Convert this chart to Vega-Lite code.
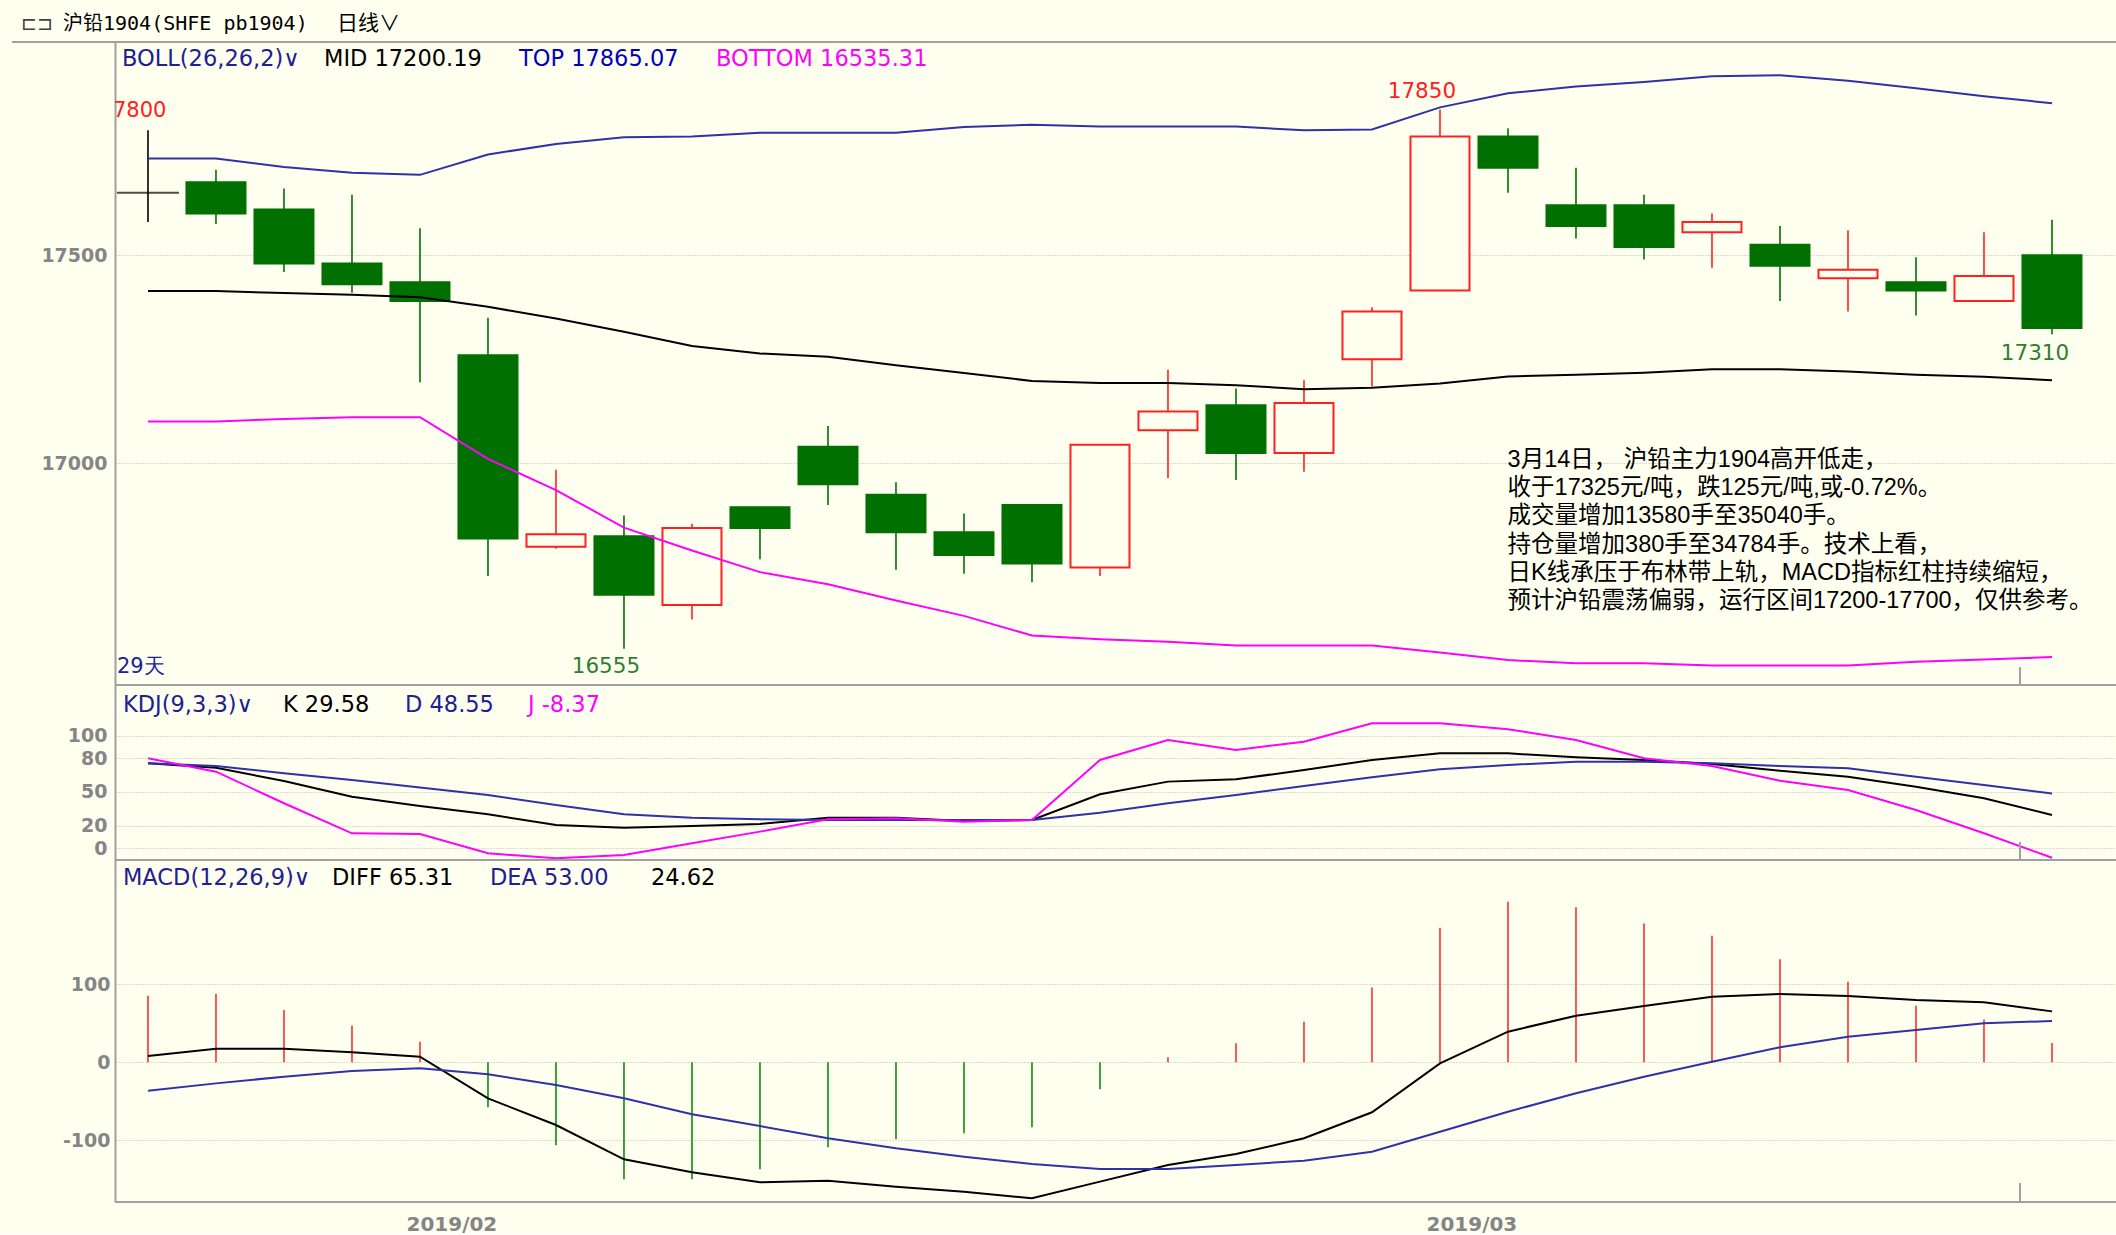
{
  "$schema": "https://vega.github.io/schema/vega-lite/v6.json",
  "background": "#FFFFF0",
  "padding": {"left": 10, "top": 13, "right": 0, "bottom": 0},
  "spacing": 0,
  "bounds": "flush",
  "config": {
    "view": {"stroke": null},
    "scale": {"continuousPadding": 0},
    "axis": {"labelFont": "DejaVu Sans", "labelFontSize": 19, "labelFontWeight": "bold", "labelColor": "#858585", "domain": false, "ticks": false, "gridColor": "#B4B4B4", "gridDash": [1, 2], "gridWidth": 1, "labelOverlap": false},
    "text": {"font": "DejaVu Sans"}
  },
  "datasets": {
    "bars": [
      {"i": 0, "date": "2019-01-28", "o": 17650, "h": 17800, "l": 17580, "c": 17650, "top": 17732, "mid": 17414, "bot": 17101, "k": 75.5, "d": 75.5, "j": 79.9, "diff": 8.1, "dea": -36.4, "macd": 85.4},
      {"i": 1, "date": "2019-01-29", "o": 17675, "h": 17705, "l": 17575, "c": 17600, "top": 17732, "mid": 17414, "bot": 17101, "k": 71.6, "d": 73.1, "j": 68, "diff": 17.5, "dea": -27, "macd": 87.6},
      {"i": 2, "date": "2019-01-30", "o": 17610, "h": 17660, "l": 17460, "c": 17480, "top": 17712, "mid": 17409, "bot": 17107, "k": 59.7, "d": 66.6, "j": 40, "diff": 17.5, "dea": -18.4, "macd": 67},
      {"i": 3, "date": "2019-01-31", "o": 17480, "h": 17645, "l": 17410, "c": 17430, "top": 17698, "mid": 17405, "bot": 17111, "k": 45.8, "d": 60.7, "j": 13.3, "diff": 12.8, "dea": -11.2, "macd": 47},
      {"i": 4, "date": "2019-02-01", "o": 17435, "h": 17565, "l": 17195, "c": 17390, "top": 17693, "mid": 17399, "bot": 17111, "k": 37.6, "d": 53.9, "j": 12.7, "diff": 7.2, "dea": -7.7, "macd": 26.4},
      {"i": 5, "date": "2019-02-11", "o": 17260, "h": 17350, "l": 16730, "c": 16820, "top": 17742, "mid": 17376, "bot": 17011, "k": 30.2, "d": 47.3, "j": -4.4, "diff": -46.2, "dea": -15.4, "macd": -57.7},
      {"i": 6, "date": "2019-02-12", "o": 16800, "h": 16985, "l": 16795, "c": 16830, "top": 17767, "mid": 17348, "bot": 16936, "k": 20.7, "d": 38.5, "j": -8.9, "diff": -80.4, "dea": -29.1, "macd": -106.4},
      {"i": 7, "date": "2019-02-13", "o": 16825, "h": 16875, "l": 16555, "c": 16685, "top": 17783, "mid": 17316, "bot": 16846, "k": 18.3, "d": 30.2, "j": -6, "diff": -124.4, "dea": -46.2, "macd": -150},
      {"i": 8, "date": "2019-02-14", "o": 16660, "h": 16855, "l": 16625, "c": 16845, "top": 17785, "mid": 17282, "bot": 16791, "k": 19.8, "d": 27.2, "j": 4.4, "diff": -141, "dea": -66.7, "macd": -150},
      {"i": 9, "date": "2019-02-15", "o": 16895, "h": 16895, "l": 16770, "c": 16845, "top": 17794, "mid": 17264, "bot": 16739, "k": 21.6, "d": 25.7, "j": 14.8, "diff": -153.9, "dea": -81.7, "macd": -137},
      {"i": 10, "date": "2019-02-18", "o": 17040, "h": 17090, "l": 16900, "c": 16950, "top": 17794, "mid": 17256, "bot": 16710, "k": 27.2, "d": 25.1, "j": 25.7, "diff": -151.7, "dea": -97.4, "macd": -109},
      {"i": 11, "date": "2019-02-19", "o": 16925, "h": 16955, "l": 16745, "c": 16835, "top": 17794, "mid": 17236, "bot": 16671, "k": 27.2, "d": 25.1, "j": 26.6, "diff": -159.5, "dea": -110.3, "macd": -98.7},
      {"i": 12, "date": "2019-02-20", "o": 16835, "h": 16880, "l": 16735, "c": 16780, "top": 17808, "mid": 17217, "bot": 16634, "k": 24.2, "d": 25.1, "j": 23.6, "diff": -165.9, "dea": -121, "macd": -91},
      {"i": 13, "date": "2019-02-21", "o": 16900, "h": 16900, "l": 16715, "c": 16760, "top": 17813, "mid": 17198, "bot": 16587, "k": 25.1, "d": 25.1, "j": 25.1, "diff": -174.4, "dea": -130.4, "macd": -83.3},
      {"i": 14, "date": "2019-02-22", "o": 16750, "h": 17045, "l": 16730, "c": 17045, "top": 17809, "mid": 17193, "bot": 16578, "k": 48, "d": 31.6, "j": 78.4, "diff": -153, "dea": -136.8, "macd": -34.6},
      {"i": 15, "date": "2019-02-25", "o": 17080, "h": 17225, "l": 16965, "c": 17125, "top": 17809, "mid": 17193, "bot": 16572, "k": 59.2, "d": 40, "j": 96.2, "diff": -131.7, "dea": -136.8, "macd": 6.4},
      {"i": 16, "date": "2019-02-26", "o": 17140, "h": 17180, "l": 16960, "c": 17025, "top": 17809, "mid": 17188, "bot": 16563, "k": 61.3, "d": 47.3, "j": 87.3, "diff": -117.6, "dea": -131.7, "macd": 24.4},
      {"i": 17, "date": "2019-02-27", "o": 17025, "h": 17200, "l": 16980, "c": 17145, "top": 17800, "mid": 17178, "bot": 16563, "k": 69.5, "d": 55.3, "j": 94.7, "diff": -97.4, "dea": -126.1, "macd": 52},
      {"i": 18, "date": "2019-02-28", "o": 17250, "h": 17375, "l": 17185, "c": 17365, "top": 17802, "mid": 17182, "bot": 16563, "k": 78.4, "d": 63, "j": 111, "diff": -64.1, "dea": -114.6, "macd": 96},
      {"i": 19, "date": "2019-03-01", "o": 17415, "h": 17850, "l": 17415, "c": 17785, "top": 17855, "mid": 17192, "bot": 16546, "k": 84.3, "d": 70.2, "j": 111, "diff": -1.3, "dea": -89, "macd": 172.6},
      {"i": 20, "date": "2019-03-04", "o": 17785, "h": 17805, "l": 17650, "c": 17710, "top": 17889, "mid": 17209, "bot": 16528, "k": 84.3, "d": 74, "j": 105.7, "diff": 39.3, "dea": -63.3, "macd": 206},
      {"i": 21, "date": "2019-03-05", "o": 17620, "h": 17710, "l": 17540, "c": 17570, "top": 17905, "mid": 17213, "bot": 16520, "k": 80.8, "d": 76.9, "j": 96.2, "diff": 59.8, "dea": -39.7, "macd": 198.7},
      {"i": 22, "date": "2019-03-06", "o": 17620, "h": 17645, "l": 17490, "c": 17520, "top": 17916, "mid": 17218, "bot": 16520, "k": 78.4, "d": 76.9, "j": 79.9, "diff": 72.2, "dea": -18.4, "macd": 178},
      {"i": 23, "date": "2019-03-07", "o": 17555, "h": 17600, "l": 17470, "c": 17580, "top": 17930, "mid": 17226, "bot": 16515, "k": 74.9, "d": 75.5, "j": 73.1, "diff": 84.1, "dea": 0.8, "macd": 162.4},
      {"i": 24, "date": "2019-03-08", "o": 17525, "h": 17570, "l": 17390, "c": 17475, "top": 17932, "mid": 17226, "bot": 16515, "k": 68.9, "d": 73.1, "j": 60, "diff": 87.6, "dea": 19.2, "macd": 132},
      {"i": 25, "date": "2019-03-11", "o": 17445, "h": 17560, "l": 17365, "c": 17465, "top": 17919, "mid": 17221, "bot": 16515, "k": 63.5, "d": 71.1, "j": 51.8, "diff": 85, "dea": 32.8, "macd": 103.4},
      {"i": 26, "date": "2019-03-12", "o": 17435, "h": 17495, "l": 17355, "c": 17415, "top": 17901, "mid": 17213, "bot": 16524, "k": 54.7, "d": 63.6, "j": 34, "diff": 79.9, "dea": 41.4, "macd": 72.6},
      {"i": 27, "date": "2019-03-13", "o": 17390, "h": 17555, "l": 17390, "c": 17450, "top": 17882, "mid": 17208, "bot": 16529, "k": 44.4, "d": 56.2, "j": 13.3, "diff": 76.9, "dea": 50, "macd": 55},
      {"i": 28, "date": "2019-03-14", "o": 17500, "h": 17585, "l": 17310, "c": 17325, "top": 17865, "mid": 17200, "bot": 16535, "k": 29.58, "d": 48.55, "j": -8.37, "diff": 65.31, "dea": 53.0, "macd": 24.62}
    ]
  },
  "vconcat": [
    {
      "width": 2002,
      "height": 643,
      "layer": [
        {"data": {"name": "bars"},
         "mark": {"type": "rule", "strokeWidth": 1.6},
         "encoding": {
           "x": {"field": "i", "type": "quantitative", "scale": {"domain": [-0.485, 28.956], "nice": false, "zero": false, "padding": 0}, "axis": null},
           "y": {"field": "l", "type": "quantitative", "scale": {"domain": [16468, 18012], "nice": false, "zero": false},
                 "axis": {"values": [17000, 17500], "format": "d", "grid": true, "labelPadding": 8, "domain": true, "domainColor": "#A0A0A0", "domainWidth": 2, "title": null}},
           "y2": {"field": "h"},
           "stroke": {"condition": [{"test": "datum.c > datum.o", "value": "#FF2020"}, {"test": "datum.c < datum.o", "value": "#007000"}], "value": "#000000"}}},
        {"data": {"name": "bars"},
         "transform": [{"filter": "datum.c != datum.o"}],
         "mark": {"type": "bar", "size": 59, "strokeWidth": 2},
         "encoding": {
           "x": {"field": "i", "type": "quantitative", "scale": {"domain": [-0.485, 28.956], "nice": false, "zero": false, "padding": 0}, "axis": null},
           "y": {"field": "o", "type": "quantitative", "scale": {"domain": [16468, 18012], "nice": false, "zero": false}},
           "y2": {"field": "c"},
           "fill": {"condition": {"test": "datum.c > datum.o", "value": "#FFFFF0"}, "value": "#007000"},
           "stroke": {"condition": {"test": "datum.c > datum.o", "value": "#FF2020"}, "value": "#007000"}}},
        {"data": {"name": "bars"},
         "transform": [{"filter": "datum.c == datum.o"}],
         "mark": {"type": "tick", "orient": "horizontal", "size": 62, "thickness": 2, "color": "#000000"},
         "encoding": {
           "x": {"field": "i", "type": "quantitative", "scale": {"domain": [-0.485, 28.956], "nice": false, "zero": false, "padding": 0}, "axis": null},
           "y": {"field": "o", "type": "quantitative", "scale": {"domain": [16468, 18012], "nice": false, "zero": false}}}},
        {"data": {"name": "bars"},
         "mark": {"type": "line", "color": "#3030A8", "strokeWidth": 2},
         "encoding": {
           "x": {"field": "i", "type": "quantitative", "scale": {"domain": [-0.485, 28.956], "nice": false, "zero": false, "padding": 0}, "axis": null},
           "y": {"field": "top", "type": "quantitative", "scale": {"domain": [16468, 18012], "nice": false, "zero": false}}}},
        {"data": {"name": "bars"},
         "mark": {"type": "line", "color": "#000000", "strokeWidth": 2},
         "encoding": {
           "x": {"field": "i", "type": "quantitative", "scale": {"domain": [-0.485, 28.956], "nice": false, "zero": false, "padding": 0}, "axis": null},
           "y": {"field": "mid", "type": "quantitative", "scale": {"domain": [16468, 18012], "nice": false, "zero": false}}}},
        {"data": {"name": "bars"},
         "mark": {"type": "line", "color": "#FF00FF", "strokeWidth": 2},
         "encoding": {
           "x": {"field": "i", "type": "quantitative", "scale": {"domain": [-0.485, 28.956], "nice": false, "zero": false, "padding": 0}, "axis": null},
           "y": {"field": "bot", "type": "quantitative", "scale": {"domain": [16468, 18012], "nice": false, "zero": false}}}},
        {"data": {"values": [{}]},
         "mark": {"type": "rule", "color": "#A0A0A0", "strokeWidth": 2},
         "encoding": {"x": {"datum": -2.0, "type": "quantitative", "scale": {"domain": [-0.485, 28.956], "nice": false, "zero": false, "padding": 0}, "axis": null}, "x2": {"datum": 28.956},
                      "y": {"datum": 18012, "type": "quantitative", "scale": {"domain": [16468, 18012], "nice": false, "zero": false}}}},
        {"data": {"values": [{}]},
         "mark": {"type": "rule", "color": "#A0A0A0", "strokeWidth": 2},
         "encoding": {"x": {"datum": -0.485, "type": "quantitative", "scale": {"domain": [-0.485, 28.956], "nice": false, "zero": false, "padding": 0}, "axis": null}, "x2": {"datum": 28.956},
                      "y": {"datum": 16468, "type": "quantitative", "scale": {"domain": [16468, 18012], "nice": false, "zero": false}}}},
        {"data": {"values": [{}]},
         "mark": {"type": "rule", "color": "#A0A0A0", "strokeWidth": 2},
         "encoding": {"x": {"datum": 27.53, "type": "quantitative", "scale": {"domain": [-0.485, 28.956], "nice": false, "zero": false, "padding": 0}, "axis": null},
                      "y": {"datum": 16468, "type": "quantitative", "scale": {"domain": [16468, 18012], "nice": false, "zero": false}}, "y2": {"datum": 16511}}},
        {"data": {"values": [{"t": "⊏⊐"}]},
         "mark": {"type": "text", "align": "left", "baseline": "middle", "fontSize": 19, "color": "#404040"},
         "encoding": {"x": {"datum": -1.868, "type": "quantitative", "scale": {"domain": [-0.485, 28.956], "nice": false, "zero": false, "padding": 0}, "axis": null}, "y": {"datum": 18055.2, "type": "quantitative", "scale": {"domain": [16468, 18012], "nice": false, "zero": false}}, "text": {"field": "t"}}},
        {"data": {"values": [{"t": "沪铅1904(SHFE pb1904)"}]},
         "mark": {"type": "text", "align": "left", "baseline": "middle", "font": "DejaVu Sans Mono, Noto Sans CJK SC", "fontSize": 20, "color": "#000000"},
         "encoding": {"x": {"datum": -1.25, "type": "quantitative", "scale": {"domain": [-0.485, 28.956], "nice": false, "zero": false, "padding": 0}, "axis": null}, "y": {"datum": 18055.2, "type": "quantitative", "scale": {"domain": [16468, 18012], "nice": false, "zero": false}}, "text": {"field": "t"}}},
        {"data": {"values": [{"t": "日线∨"}]},
         "mark": {"type": "text", "align": "left", "baseline": "middle", "font": "Noto Sans CJK SC", "fontSize": 21, "color": "#000000"},
         "encoding": {"x": {"datum": 2.779, "type": "quantitative", "scale": {"domain": [-0.485, 28.956], "nice": false, "zero": false, "padding": 0}, "axis": null}, "y": {"datum": 18055.2, "type": "quantitative", "scale": {"domain": [16468, 18012], "nice": false, "zero": false}}, "text": {"field": "t"}}},
        {"data": {"values": [{"t": "BOLL(26,26,2)∨"}]},
         "mark": {"type": "text", "align": "left", "baseline": "middle", "fontSize": 22.5, "color": "#202090"},
         "encoding": {"x": {"datum": -0.382, "type": "quantitative", "scale": {"domain": [-0.485, 28.956], "nice": false, "zero": false, "padding": 0}, "axis": null}, "y": {"datum": 17971, "type": "quantitative", "scale": {"domain": [16468, 18012], "nice": false, "zero": false}}, "text": {"field": "t"}}},
        {"data": {"values": [{"t": "MID 17200.19"}]},
         "mark": {"type": "text", "align": "left", "baseline": "middle", "fontSize": 22.5, "color": "#000000"},
         "encoding": {"x": {"datum": 2.588, "type": "quantitative", "scale": {"domain": [-0.485, 28.956], "nice": false, "zero": false, "padding": 0}, "axis": null}, "y": {"datum": 17971, "type": "quantitative", "scale": {"domain": [16468, 18012], "nice": false, "zero": false}}, "text": {"field": "t"}}},
        {"data": {"values": [{"t": "TOP 17865.07"}]},
         "mark": {"type": "text", "align": "left", "baseline": "middle", "fontSize": 22.5, "color": "#0000C0"},
         "encoding": {"x": {"datum": 5.456, "type": "quantitative", "scale": {"domain": [-0.485, 28.956], "nice": false, "zero": false, "padding": 0}, "axis": null}, "y": {"datum": 17971, "type": "quantitative", "scale": {"domain": [16468, 18012], "nice": false, "zero": false}}, "text": {"field": "t"}}},
        {"data": {"values": [{"t": "BOTTOM 16535.31"}]},
         "mark": {"type": "text", "align": "left", "baseline": "middle", "fontSize": 22.5, "color": "#FF00FF"},
         "encoding": {"x": {"datum": 8.353, "type": "quantitative", "scale": {"domain": [-0.485, 28.956], "nice": false, "zero": false, "padding": 0}, "axis": null}, "y": {"datum": 17971, "type": "quantitative", "scale": {"domain": [16468, 18012], "nice": false, "zero": false}}, "text": {"field": "t"}}},
        {"data": {"values": [{"t": "17800"}]},
         "mark": {"type": "text", "align": "center", "baseline": "middle", "fontSize": 21, "color": "#FF2020", "clip": true},
         "encoding": {"x": {"datum": -0.22, "type": "quantitative", "scale": {"domain": [-0.485, 28.956], "nice": false, "zero": false, "padding": 0}, "axis": null}, "y": {"datum": 17846.5, "type": "quantitative", "scale": {"domain": [16468, 18012], "nice": false, "zero": false}}, "text": {"field": "t"}}},
        {"data": {"values": [{"t": "17850"}]},
         "mark": {"type": "text", "align": "center", "baseline": "middle", "fontSize": 21.5, "color": "#FF2020"},
         "encoding": {"x": {"datum": 18.735, "type": "quantitative", "scale": {"domain": [-0.485, 28.956], "nice": false, "zero": false, "padding": 0}, "axis": null}, "y": {"datum": 17893, "type": "quantitative", "scale": {"domain": [16468, 18012], "nice": false, "zero": false}}, "text": {"field": "t"}}},
        {"data": {"values": [{"t": "16555"}]},
         "mark": {"type": "text", "align": "center", "baseline": "middle", "fontSize": 21.5, "color": "#2F7F2F"},
         "encoding": {"x": {"datum": 6.735, "type": "quantitative", "scale": {"domain": [-0.485, 28.956], "nice": false, "zero": false, "padding": 0}, "axis": null}, "y": {"datum": 16511, "type": "quantitative", "scale": {"domain": [16468, 18012], "nice": false, "zero": false}}, "text": {"field": "t"}}},
        {"data": {"values": [{"t": "17310"}]},
         "mark": {"type": "text", "align": "center", "baseline": "middle", "fontSize": 21.5, "color": "#2F7F2F"},
         "encoding": {"x": {"datum": 27.75, "type": "quantitative", "scale": {"domain": [-0.485, 28.956], "nice": false, "zero": false, "padding": 0}, "axis": null}, "y": {"datum": 17263, "type": "quantitative", "scale": {"domain": [16468, 18012], "nice": false, "zero": false}}, "text": {"field": "t"}}},
        {"data": {"values": [{"t": "29天"}]},
         "mark": {"type": "text", "align": "left", "baseline": "middle", "fontSize": 21, "color": "#2020A0"},
         "encoding": {"x": {"datum": -0.456, "type": "quantitative", "scale": {"domain": [-0.485, 28.956], "nice": false, "zero": false, "padding": 0}, "axis": null}, "y": {"datum": 16511, "type": "quantitative", "scale": {"domain": [16468, 18012], "nice": false, "zero": false}}, "text": {"field": "t"}}},
        {"data": {"values": [{"t": "3月14日， 沪铅主力1904高开低走，\n收于17325元/吨，跌125元/吨,或-0.72%。\n成交量增加13580手至35040手。\n持仓量增加380手至34784手。技术上看，\n日K线承压于布林带上轨，MACD指标红柱持续缩短，\n预计沪铅震荡偏弱，运行区间17200-17700，仅供参考。"}]},
         "mark": {"type": "text", "align": "left", "baseline": "top", "font": "Liberation Sans, Noto Sans CJK SC", "fontSize": 23.5, "lineHeight": 28.3, "lineBreak": "\n", "color": "#000000"},
         "encoding": {"x": {"datum": 19.994, "type": "quantitative", "scale": {"domain": [-0.485, 28.956], "nice": false, "zero": false, "padding": 0}, "axis": null}, "y": {"datum": 17038, "type": "quantitative", "scale": {"domain": [16468, 18012], "nice": false, "zero": false}}, "text": {"field": "t"}}}
      ]
    },
    {
      "width": 2002,
      "height": 175,
      "layer": [
        {"data": {"name": "bars"},
         "mark": {"type": "line", "color": "#000000", "strokeWidth": 2},
         "encoding": {
           "x": {"field": "i", "type": "quantitative", "scale": {"domain": [-0.485, 28.956], "nice": false, "zero": false, "padding": 0}, "axis": null},
           "y": {"field": "k", "type": "quantitative", "scale": {"domain": [-10.4, 145], "nice": false, "zero": false},
                 "axis": {"values": [0, 20, 50, 80, 100], "grid": true, "labelPadding": 8, "domain": true, "domainColor": "#A0A0A0", "domainWidth": 2, "title": null}}}},
        {"data": {"name": "bars"},
         "mark": {"type": "line", "color": "#3030A8", "strokeWidth": 2},
         "encoding": {
           "x": {"field": "i", "type": "quantitative", "scale": {"domain": [-0.485, 28.956], "nice": false, "zero": false, "padding": 0}, "axis": null},
           "y": {"field": "d", "type": "quantitative", "scale": {"domain": [-10.4, 145], "nice": false, "zero": false}}}},
        {"data": {"name": "bars"},
         "mark": {"type": "line", "color": "#FF00FF", "strokeWidth": 2},
         "encoding": {
           "x": {"field": "i", "type": "quantitative", "scale": {"domain": [-0.485, 28.956], "nice": false, "zero": false, "padding": 0}, "axis": null},
           "y": {"field": "j", "type": "quantitative", "scale": {"domain": [-10.4, 145], "nice": false, "zero": false}}}},
        {"data": {"values": [{}]},
         "mark": {"type": "rule", "color": "#A0A0A0", "strokeWidth": 2},
         "encoding": {"x": {"datum": -0.485, "type": "quantitative", "scale": {"domain": [-0.485, 28.956], "nice": false, "zero": false, "padding": 0}, "axis": null}, "x2": {"datum": 28.956},
                      "y": {"datum": -10.4, "type": "quantitative", "scale": {"domain": [-10.4, 145], "nice": false, "zero": false}}}},
        {"data": {"values": [{}]},
         "mark": {"type": "rule", "color": "#A0A0A0", "strokeWidth": 2},
         "encoding": {"x": {"datum": 27.53, "type": "quantitative", "scale": {"domain": [-0.485, 28.956], "nice": false, "zero": false, "padding": 0}, "axis": null},
                      "y": {"datum": -10.4, "type": "quantitative", "scale": {"domain": [-10.4, 145], "nice": false, "zero": false}}, "y2": {"datum": 5.6}}},
        {"data": {"values": [{"t": "KDJ(9,3,3)∨"}]},
         "mark": {"type": "text", "align": "left", "baseline": "middle", "fontSize": 22.5, "color": "#202090"},
         "encoding": {"x": {"datum": -0.368, "type": "quantitative", "scale": {"domain": [-0.485, 28.956], "nice": false, "zero": false, "padding": 0}, "axis": null}, "y": {"datum": 127.3, "type": "quantitative", "scale": {"domain": [-10.4, 145], "nice": false, "zero": false}}, "text": {"field": "t"}}},
        {"data": {"values": [{"t": "K 29.58"}]},
         "mark": {"type": "text", "align": "left", "baseline": "middle", "fontSize": 22.5, "color": "#000000"},
         "encoding": {"x": {"datum": 1.985, "type": "quantitative", "scale": {"domain": [-0.485, 28.956], "nice": false, "zero": false, "padding": 0}, "axis": null}, "y": {"datum": 127.3, "type": "quantitative", "scale": {"domain": [-10.4, 145], "nice": false, "zero": false}}, "text": {"field": "t"}}},
        {"data": {"values": [{"t": "D 48.55"}]},
         "mark": {"type": "text", "align": "left", "baseline": "middle", "fontSize": 22.5, "color": "#202090"},
         "encoding": {"x": {"datum": 3.78, "type": "quantitative", "scale": {"domain": [-0.485, 28.956], "nice": false, "zero": false, "padding": 0}, "axis": null}, "y": {"datum": 127.3, "type": "quantitative", "scale": {"domain": [-10.4, 145], "nice": false, "zero": false}}, "text": {"field": "t"}}},
        {"data": {"values": [{"t": "J -8.37"}]},
         "mark": {"type": "text", "align": "left", "baseline": "middle", "fontSize": 22.5, "color": "#FF00FF"},
         "encoding": {"x": {"datum": 5.588, "type": "quantitative", "scale": {"domain": [-0.485, 28.956], "nice": false, "zero": false, "padding": 0}, "axis": null}, "y": {"datum": 127.3, "type": "quantitative", "scale": {"domain": [-10.4, 145], "nice": false, "zero": false}}, "text": {"field": "t"}}}
      ]
    },
    {
      "width": 2002,
      "height": 342,
      "layer": [
        {"data": {"name": "bars"},
         "mark": {"type": "rule", "strokeWidth": 1.5},
         "encoding": {
           "x": {"field": "i", "type": "quantitative", "scale": {"domain": [-0.485, 28.956], "nice": false, "zero": false, "padding": 0},
                 "axis": {"values": [4, 19], "labelExpr": "datum.value < 10 ? '2019/02' : '2019/03'", "labelAlign": "left", "labelOffset": -14, "labelPadding": 12, "labelFontSize": 20, "grid": false, "domain": false, "title": null}},
           "y": {"field": "macd", "type": "quantitative", "scale": {"domain": [-179.1, 259.4], "nice": false, "zero": false},
                 "axis": {"values": [-100, 0, 100], "labelExpr": "'' + datum.value", "grid": true, "labelPadding": 5, "domain": true, "domainColor": "#A0A0A0", "domainWidth": 2, "title": null}},
           "y2": {"datum": 0},
           "stroke": {"condition": {"test": "datum.macd >= 0", "value": "#FF2020"}, "value": "#008000"}}},
        {"data": {"name": "bars"},
         "mark": {"type": "line", "color": "#000000", "strokeWidth": 2},
         "encoding": {"x": {"field": "i", "type": "quantitative", "scale": {"domain": [-0.485, 28.956], "nice": false, "zero": false, "padding": 0}},
                      "y": {"field": "diff", "type": "quantitative", "scale": {"domain": [-179.1, 259.4], "nice": false, "zero": false}}}},
        {"data": {"name": "bars"},
         "mark": {"type": "line", "color": "#3030A8", "strokeWidth": 2},
         "encoding": {"x": {"field": "i", "type": "quantitative", "scale": {"domain": [-0.485, 28.956], "nice": false, "zero": false, "padding": 0}},
                      "y": {"field": "dea", "type": "quantitative", "scale": {"domain": [-179.1, 259.4], "nice": false, "zero": false}}}},
        {"data": {"values": [{}]},
         "mark": {"type": "rule", "color": "#A0A0A0", "strokeWidth": 2},
         "encoding": {"x": {"datum": -0.485, "type": "quantitative", "scale": {"domain": [-0.485, 28.956], "nice": false, "zero": false, "padding": 0}}, "x2": {"datum": 28.956},
                      "y": {"datum": -179.1, "type": "quantitative", "scale": {"domain": [-179.1, 259.4], "nice": false, "zero": false}}}},
        {"data": {"values": [{}]},
         "mark": {"type": "rule", "color": "#A0A0A0", "strokeWidth": 2},
         "encoding": {"x": {"datum": 27.53, "type": "quantitative", "scale": {"domain": [-0.485, 28.956], "nice": false, "zero": false, "padding": 0}},
                      "y": {"datum": -179.1, "type": "quantitative", "scale": {"domain": [-179.1, 259.4], "nice": false, "zero": false}}, "y2": {"datum": -154.7}}},
        {"data": {"values": [{"t": "MACD(12,26,9)∨"}]},
         "mark": {"type": "text", "align": "left", "baseline": "middle", "fontSize": 22.5, "color": "#202090"},
         "encoding": {"x": {"datum": -0.368, "type": "quantitative", "scale": {"domain": [-0.485, 28.956], "nice": false, "zero": false, "padding": 0}}, "y": {"datum": 236.3, "type": "quantitative", "scale": {"domain": [-179.1, 259.4], "nice": false, "zero": false}}, "text": {"field": "t"}}},
        {"data": {"values": [{"t": "DIFF 65.31"}]},
         "mark": {"type": "text", "align": "left", "baseline": "middle", "fontSize": 22.5, "color": "#000000"},
         "encoding": {"x": {"datum": 2.706, "type": "quantitative", "scale": {"domain": [-0.485, 28.956], "nice": false, "zero": false, "padding": 0}}, "y": {"datum": 236.3, "type": "quantitative", "scale": {"domain": [-179.1, 259.4], "nice": false, "zero": false}}, "text": {"field": "t"}}},
        {"data": {"values": [{"t": "DEA 53.00"}]},
         "mark": {"type": "text", "align": "left", "baseline": "middle", "fontSize": 22.5, "color": "#202090"},
         "encoding": {"x": {"datum": 5.029, "type": "quantitative", "scale": {"domain": [-0.485, 28.956], "nice": false, "zero": false, "padding": 0}}, "y": {"datum": 236.3, "type": "quantitative", "scale": {"domain": [-179.1, 259.4], "nice": false, "zero": false}}, "text": {"field": "t"}}},
        {"data": {"values": [{"t": "24.62"}]},
         "mark": {"type": "text", "align": "left", "baseline": "middle", "fontSize": 22.5, "color": "#000000"},
         "encoding": {"x": {"datum": 7.397, "type": "quantitative", "scale": {"domain": [-0.485, 28.956], "nice": false, "zero": false, "padding": 0}}, "y": {"datum": 236.3, "type": "quantitative", "scale": {"domain": [-179.1, 259.4], "nice": false, "zero": false}}, "text": {"field": "t"}}}
      ]
    }
  ]
}
